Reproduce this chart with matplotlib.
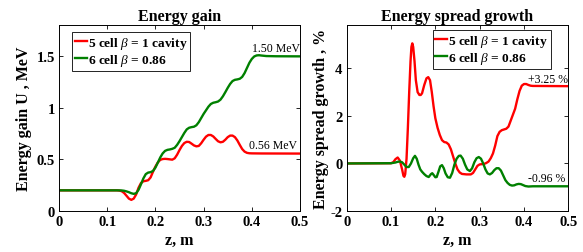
import matplotlib
matplotlib.use("Agg")
import matplotlib.pyplot as plt

plt.rcParams['font.family'] = ['Liberation Serif', 'DejaVu Serif']
plt.rcParams['mathtext.fontset'] = 'custom'
plt.rcParams['mathtext.rm'] = 'Liberation Serif'
plt.rcParams['mathtext.it'] = 'Liberation Serif:italic'
plt.rcParams['mathtext.bf'] = 'Liberation Serif:bold'

# ---- Energy gain (left) ----
z_gain_5 = [0.000, 0.100, 0.120, 0.125, 0.130, 0.135, 0.140, 0.145, 0.150, 0.155,
            0.160, 0.165, 0.170, 0.175, 0.180, 0.185, 0.190, 0.195, 0.200, 0.205,
            0.210, 0.215, 0.220, 0.225, 0.230, 0.235, 0.240, 0.245, 0.250, 0.255,
            0.260, 0.265, 0.270, 0.275, 0.280, 0.285, 0.290, 0.295, 0.300, 0.305,
            0.310, 0.315, 0.320, 0.325, 0.330, 0.335, 0.340, 0.345, 0.350, 0.355,
            0.360, 0.365, 0.370, 0.375, 0.380, 0.385, 0.390, 0.395, 0.400, 0.420, 0.500]
u_gain_5 = [0.200, 0.200, 0.200, 0.198, 0.192, 0.175, 0.148, 0.120, 0.108, 0.120,
            0.160, 0.225, 0.270, 0.288, 0.292, 0.298, 0.325, 0.380, 0.430, 0.470,
            0.495, 0.503, 0.505, 0.503, 0.500, 0.497, 0.510, 0.545, 0.590, 0.630,
            0.658, 0.670, 0.668, 0.652, 0.635, 0.626, 0.630, 0.656, 0.690, 0.720,
            0.736, 0.736, 0.722, 0.698, 0.675, 0.665, 0.670, 0.690, 0.715, 0.730,
            0.730, 0.715, 0.683, 0.640, 0.600, 0.575, 0.563, 0.559, 0.558, 0.557, 0.556]

z_gain_6 = [0.000, 0.100, 0.120, 0.130, 0.135, 0.140, 0.145, 0.150, 0.155, 0.160,
            0.165, 0.170, 0.175, 0.180, 0.185, 0.190, 0.195, 0.200, 0.205, 0.210,
            0.215, 0.220, 0.225, 0.230, 0.235, 0.240, 0.245, 0.250, 0.255, 0.260,
            0.265, 0.270, 0.275, 0.280, 0.285, 0.290, 0.295, 0.300, 0.305, 0.310,
            0.315, 0.320, 0.325, 0.330, 0.335, 0.340, 0.345, 0.350, 0.355, 0.360,
            0.365, 0.370, 0.375, 0.380, 0.385, 0.390, 0.395, 0.400, 0.405, 0.410,
            0.415, 0.420, 0.430, 0.450, 0.500]
u_gain_6 = [0.200, 0.200, 0.200, 0.199, 0.196, 0.190, 0.182, 0.172, 0.166, 0.172,
            0.205, 0.258, 0.315, 0.357, 0.372, 0.376, 0.388, 0.420, 0.468, 0.518,
            0.557, 0.582, 0.592, 0.596, 0.602, 0.612, 0.640, 0.676, 0.716, 0.756,
            0.790, 0.806, 0.812, 0.816, 0.830, 0.860, 0.900, 0.940, 0.975, 1.010,
            1.036, 1.048, 1.053, 1.060, 1.078, 1.110, 1.150, 1.192, 1.230, 1.258,
            1.270, 1.274, 1.280, 1.298, 1.335, 1.385, 1.435, 1.472, 1.496, 1.506,
            1.508, 1.505, 1.500, 1.498, 1.497]

# ---- Energy spread growth (right) ----
z_spread_5 = [0.000, 0.100, 0.105, 0.110, 0.115, 0.120, 0.125, 0.128, 0.130, 0.132,
              0.135, 0.138, 0.141, 0.144, 0.146, 0.148, 0.150, 0.153, 0.156, 0.160,
              0.164, 0.167, 0.170, 0.175, 0.180, 0.184, 0.188, 0.192, 0.196, 0.200,
              0.205, 0.210, 0.215, 0.220, 0.225, 0.230, 0.235, 0.240, 0.245, 0.250,
              0.255, 0.260, 0.270, 0.280, 0.285, 0.290, 0.295, 0.300, 0.305, 0.310,
              0.315, 0.320, 0.325, 0.330, 0.335, 0.340, 0.345, 0.350, 0.355, 0.360,
              0.365, 0.370, 0.375, 0.380, 0.385, 0.390, 0.395, 0.400, 0.405, 0.410,
              0.415, 0.420, 0.500]
s_spread_5 = [0.00, 0.01, 0.05, 0.18, 0.25, 0.12, -0.25, -0.52, -0.56, -0.45,
              0.20, 1.50, 3.00, 4.30, 4.90, 5.05, 4.90, 4.30, 3.50, 3.00,
              2.88, 2.88, 2.95, 3.30, 3.58, 3.63, 3.50, 3.00, 2.40, 1.90,
              1.50, 1.20, 0.98, 0.90, 0.88, 0.80, 0.60, 0.30, 0.00, -0.25,
              -0.38, -0.44, -0.46, -0.46, -0.40, -0.25, -0.10, -0.04, -0.03, -0.02,
              0.02, 0.08, 0.22, 0.42, 0.75, 1.15, 1.33, 1.40, 1.43, 1.46,
              1.55, 1.80, 2.05, 2.30, 2.70, 3.05, 3.27, 3.34, 3.34, 3.30,
              3.27, 3.26, 3.25]

z_spread_6 = [0.000, 0.100, 0.110, 0.115, 0.120, 0.125, 0.130, 0.135, 0.140, 0.145,
              0.150, 0.154, 0.158, 0.162, 0.166, 0.170, 0.175, 0.180, 0.185, 0.190,
              0.193, 0.196, 0.200, 0.203, 0.207, 0.211, 0.215, 0.219, 0.223, 0.228,
              0.233, 0.238, 0.243, 0.248, 0.253, 0.257, 0.262, 0.267, 0.272, 0.278,
              0.283, 0.288, 0.293, 0.298, 0.303, 0.308, 0.313, 0.318, 0.323, 0.328,
              0.333, 0.338, 0.343, 0.348, 0.353, 0.358, 0.363, 0.368, 0.373, 0.378,
              0.383, 0.388, 0.393, 0.398, 0.403, 0.410, 0.420, 0.500]
s_spread_6 = [0.00, 0.01, 0.04, 0.07, 0.08, 0.05, -0.05, -0.15, -0.15, 0.00,
              0.22, 0.32, 0.20, -0.05, -0.25, -0.35, -0.45, -0.53, -0.57, -0.45,
              -0.41, -0.48, -0.58, -0.57, -0.35, -0.12, -0.07, -0.20, -0.42, -0.58,
              -0.60, -0.40, -0.05, 0.20, 0.32, 0.33, 0.20, -0.05, -0.25, -0.32,
              -0.20, 0.05, 0.22, 0.27, 0.20, 0.00, -0.25, -0.42, -0.46, -0.40,
              -0.28, -0.20, -0.20, -0.30, -0.50, -0.70, -0.82, -0.90, -0.93, -0.92,
              -0.88, -0.86, -0.87, -0.91, -0.95, -0.97, -0.96, -0.96]

x_ticks = [0, 0.1, 0.2, 0.3, 0.4, 0.5]
x_tick_labels = ['0', '0.1', '0.2', '0.3', '0.4', '0.5']
gain_ticks = [0, 0.5, 1.0, 1.5]
gain_tick_labels = ['0', '0.5', '1', '1.5']
spread_ticks = [-2, 0, 2, 4]
spread_tick_labels = ['-2', '0', '2', '4']

label_5 = r'5 cell $\beta$ = 1 cavity'
label_6 = r'6 cell $\beta$ = 0.86'
red = '#ff0000'
green = '#008000'

fig = plt.figure(figsize=(5.83, 2.53), dpi=100)
ax1 = fig.add_axes([0.1012, 0.162, 0.4134, 0.735])
ax2 = fig.add_axes([0.5947, 0.162, 0.3801, 0.735])

fs = 10.5
fs_title = 11.5
fs_ann = 8.5
fs_leg = 9.6

def style(ax):
    ax.tick_params(direction='in', top=True, right=True, length=3, width=0.6,
                   labelsize=fs, pad=3)
    for lab in ax.get_xticklabels() + ax.get_yticklabels():
        lab.set_fontweight('bold')
    for sp in ax.spines.values():
        sp.set_linewidth(0.7)

ax1.plot(z_gain_5, u_gain_5, color=red, lw=1.7, label=label_5)
ax1.plot(z_gain_6, u_gain_6, color=green, lw=1.7, label=label_6)
ax1.set_xlim(0, 0.5)
ax1.set_ylim(0, 1.8)
ax1.set_xticks(x_ticks)
ax1.set_xticklabels(x_tick_labels)
ax1.set_yticks(gain_ticks)
ax1.set_yticklabels(gain_tick_labels)
style(ax1)
ax1.set_title('Energy gain', fontsize=fs_title, fontweight='bold', pad=4)
ax1.set_xlabel('z, m', fontsize=fs_title, fontweight='bold', labelpad=3)
ax1.set_ylabel('Energy gain U , MeV', fontsize=fs_title, fontweight='bold', labelpad=3)
ax1.text(0.45, 1.58, '1.50 MeV', fontsize=fs_ann, ha='center', va='center')
ax1.text(0.443, 0.643, '0.56 MeV', fontsize=fs_ann, ha='center', va='center')
leg1 = ax1.legend(loc='upper left', bbox_to_anchor=(0.055, 0.962),
                  handlelength=0.9, handletextpad=0.05, borderpad=0.2,
                  labelspacing=0.1, borderaxespad=0.0, fancybox=False,
                  framealpha=1, edgecolor='black', prop={'weight': 'bold', 'size': fs_leg})
leg1.get_frame().set_linewidth(0.6)

ax2.plot(z_spread_5, s_spread_5, color=red, lw=1.7, label=label_5)
ax2.plot(z_spread_6, s_spread_6, color=green, lw=1.7, label=label_6)
ax2.set_xlim(0, 0.5)
ax2.set_ylim(-2, 5.82)
ax2.set_xticks(x_ticks)
ax2.set_xticklabels(x_tick_labels)
ax2.set_yticks(spread_ticks)
ax2.set_yticklabels(spread_tick_labels)
style(ax2)
ax2.set_title('Energy spread growth', fontsize=fs_title, fontweight='bold', pad=4)
ax2.set_xlabel('z, m', fontsize=fs_title, fontweight='bold', labelpad=3)
ax2.set_ylabel('Energy spread growth , %', fontsize=fs_title, fontweight='bold', labelpad=1)
ax2.text(0.454, 3.56, '+3.25 %', fontsize=fs_ann, ha='center', va='center')
ax2.text(0.45, -0.62, '-0.96 %', fontsize=fs_ann, ha='center', va='center')
leg2 = ax2.legend(loc='upper right', bbox_to_anchor=(0.92, 0.973),
                  handlelength=0.9, handletextpad=0.05, borderpad=0.2,
                  labelspacing=0.1, borderaxespad=0.0, fancybox=False,
                  framealpha=1, edgecolor='black', prop={'weight': 'bold', 'size': fs_leg})
leg2.get_frame().set_linewidth(0.6)

fig.savefig('out.png', dpi=100)
